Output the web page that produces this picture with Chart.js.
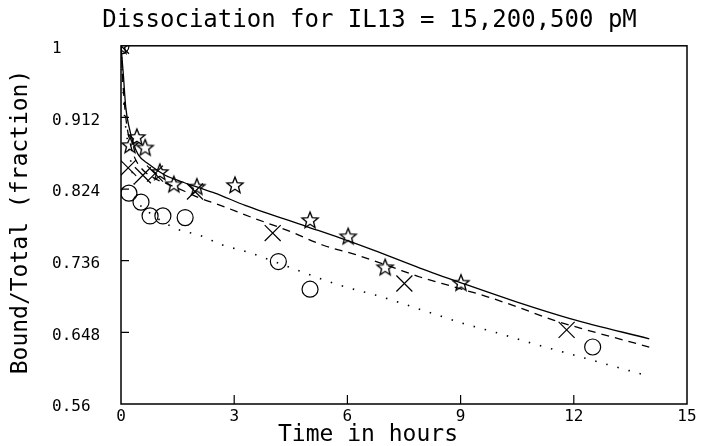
<!DOCTYPE html>
<html><head><meta charset="utf-8">
<script src="https://cdn.jsdelivr.net/npm/chart.js@4"></script>
<style>html,body{margin:0;padding:0;background:#fff;}</style>
</head><body>
<canvas id="c" width="703" height="446"></canvas>
<script>
// ---------- text ----------
const TITLE = 'Dissociation for IL13 = 15,200,500 pM';
const X_TITLE = 'Time in hours';
const Y_TITLE = 'Bound/Total (fraction)';

// ---------- ticks ----------
const xTicks = [0, 3, 6, 9, 12, 15];
const yTicks = [0.56, 0.648, 0.736, 0.824, 0.912, 1];
const yTickLabels = ['0.56', '0.648', '0.736', '0.824', '0.912', '1'];

// ---------- measured points ----------
const starTimes  = [0, 0.24, 0.42, 0.64, 1.03, 1.40, 2.01, 3.02, 5.01, 6.02, 7.00, 9.01];
const starValues = [1, 0.878, 0.888, 0.875, 0.845, 0.830, 0.827, 0.829, 0.786, 0.766, 0.728, 0.709];

const crossTimes  = [0, 0.19, 0.58, 0.90, 1.96, 4.02, 7.51, 11.81];
const crossValues = [1, 0.850, 0.841, 0.843, 0.821, 0.770, 0.708, 0.651];

const circleTimes  = [0, 0.21, 0.53, 0.77, 1.11, 1.70, 4.17, 5.01, 12.50];
const circleValues = [1, 0.819, 0.808, 0.791, 0.791, 0.789, 0.735, 0.701, 0.630];

// ---------- fitted curves ----------
const solidTimes  = [0, 0.06, 0.125, 0.21, 0.33, 0.46, 0.72, 1.17, 1.61, 2.05, 2.49, 3.29, 4.92, 5.80, 6.69, 7.92, 9.07, 10.58, 11.90, 14.0];
const solidValues = [1, 0.966, 0.925, 0.901, 0.880, 0.866, 0.855, 0.841, 0.833, 0.826, 0.819, 0.804, 0.778, 0.764, 0.749, 0.727, 0.708, 0.684, 0.665, 0.640];

const dashTimes  = [0, 0.05, 0.12, 0.22, 0.35, 0.55, 0.90, 1.25, 1.70, 2.09, 2.58, 3.42, 4.48, 5.36, 6.25, 7.13, 7.92, 8.81, 9.69, 10.58, 11.46, 12.34, 14.0];
const dashValues = [1, 0.955, 0.915, 0.885, 0.864, 0.849, 0.837, 0.830, 0.821, 0.813, 0.805, 0.790, 0.772, 0.755, 0.743, 0.729, 0.716, 0.704, 0.692, 0.678, 0.663, 0.651, 0.630];

const dotTimes  = [0, 0.05, 0.10, 0.14, 0.17, 0.23, 0.32, 0.50, 0.75, 1.00, 1.48, 2.09, 2.71, 3.33, 4.52, 5.72, 6.95, 8.14, 9.07, 10.00, 10.93, 11.86, 12.78, 14.0];
const dotValues = [1, 0.950, 0.910, 0.895, 0.884, 0.868, 0.838, 0.806, 0.795, 0.787, 0.775, 0.767, 0.755, 0.747, 0.727, 0.707, 0.691, 0.673, 0.659, 0.647, 0.634, 0.622, 0.610, 0.594];

const pts = (xs, ys) => xs.map((x, i) => ({x: x, y: ys[i]}));

// star marker drawn on a small canvas
function makeStar(outer, inner, lw) {
  const s = 2 * Math.ceil(outer + lw + 1);
  const cv = document.createElement('canvas');
  cv.width = s; cv.height = s;
  const g = cv.getContext('2d');
  g.strokeStyle = '#000'; g.lineWidth = lw; g.lineJoin = 'miter';
  g.beginPath();
  for (let k = 0; k < 10; k++) {
    const r = k % 2 === 0 ? outer : inner;
    const a = -Math.PI / 2 + k * Math.PI / 5;
    const px = s / 2 + r * Math.cos(a), py = s / 2 + 0.6 + r * Math.sin(a);
    if (k === 0) g.moveTo(px, py); else g.lineTo(px, py);
  }
  g.closePath();
  g.stroke();
  return cv;
}
const starImg = makeStar(8.5, 3.7, 1.35);

const FONT = '"DejaVu Sans Mono", monospace';

const framePlugin = {
  id: 'frame',
  afterDatasetsDraw(chart) {
    const {ctx, chartArea: a, scales: {x, y}} = chart;
    ctx.save();
    ctx.strokeStyle = '#000';
    ctx.lineWidth = 1.5;
    ctx.strokeRect(a.left, a.top, a.right - a.left, a.bottom - a.top);
    ctx.lineWidth = 1.2;
    ctx.beginPath();
    x.ticks.forEach(t => {
      const px = x.getPixelForValue(t.value);
      if (px > a.left + 2 && px < a.right - 2) { ctx.moveTo(px, a.bottom); ctx.lineTo(px, a.bottom - 9); }
    });
    y.ticks.forEach(t => {
      const py = y.getPixelForValue(t.value);
      if (py > a.top + 2 && py < a.bottom - 2) { ctx.moveTo(a.left, py); ctx.lineTo(a.left + 8, py); }
    });
    ctx.stroke();
    ctx.fillStyle = '#000';
    ctx.font = '23px ' + FONT;
    ctx.textAlign = 'center';
    ctx.textBaseline = 'middle';
    ctx.fillText(X_TITLE, 368, 435);
    ctx.translate(21, 222);
    ctx.rotate(-Math.PI / 2);
    ctx.fillText(Y_TITLE, 0, 0);
    ctx.restore();
  }
};

const lineBase = {showLine: true, pointRadius: 0, borderColor: '#000', backgroundColor: '#000', cubicInterpolationMode: 'monotone', fill: false};

new Chart(document.getElementById('c'), {
  type: 'scatter',
  data: {
    datasets: [
      Object.assign({label: 'fit 1', data: pts(solidTimes, solidValues), borderWidth: 1.3}, lineBase),
      Object.assign({label: 'fit 2', data: pts(dashTimes, dashValues), borderWidth: 1.3, borderDash: [8, 6]}, lineBase),
      Object.assign({label: 'fit 3', data: pts(dotTimes, dotValues), borderWidth: 1.6, borderDash: [1.5, 10]}, lineBase),
      {label: 'stars', data: pts(starTimes, starValues), pointStyle: starImg, pointRadius: 8, borderColor: '#000', backgroundColor: 'rgba(0,0,0,0)'},
      {label: 'crosses', data: pts(crossTimes, crossValues), pointStyle: 'crossRot', pointRadius: 11.3, borderWidth: 1.2, borderColor: '#000', backgroundColor: 'rgba(0,0,0,0)'},
      {label: 'circles', data: pts(circleTimes, circleValues), pointStyle: 'circle', pointRadius: 8, borderWidth: 1.2, borderColor: '#000', backgroundColor: 'rgba(0,0,0,0)'}
    ]
  },
  options: {
    responsive: false,
    animation: false,
    devicePixelRatio: 1,
    layout: {padding: {left: 52, right: 16, top: 0, bottom: 0}},
    plugins: {
      legend: {display: false},
      tooltip: {enabled: false},
      title: {display: true, text: TITLE, color: '#000', font: {family: FONT, size: 24, weight: 'normal'}, padding: {top: 6, bottom: 11}}
    },
    scales: {
      x: {
        type: 'linear', min: 0, max: 15,
        afterBuildTicks: s => { s.ticks = xTicks.map(v => ({value: v})); },
        afterFit: s => { s.height = 42; },
        grid: {display: false, drawTicks: false},
        border: {display: false},
        ticks: {color: '#000', padding: 3, font: {family: FONT, size: 16}, maxRotation: 0, autoSkip: false, callback: v => String(v)}
      },
      y: {
        type: 'linear', min: 0.56, max: 1,
        afterBuildTicks: s => { s.ticks = yTicks.map(v => ({value: v})); },
        afterFit: s => { s.width = 69; },
        grid: {display: false, drawTicks: false},
        border: {display: false},
        ticks: {color: '#000', crossAlign: 'far', labelOffset: 3, font: {family: FONT, size: 16}, autoSkip: false, callback: (v, i) => yTickLabels[i]}
      }
    }
  },
  plugins: [framePlugin]
});
</script>
</body></html>
